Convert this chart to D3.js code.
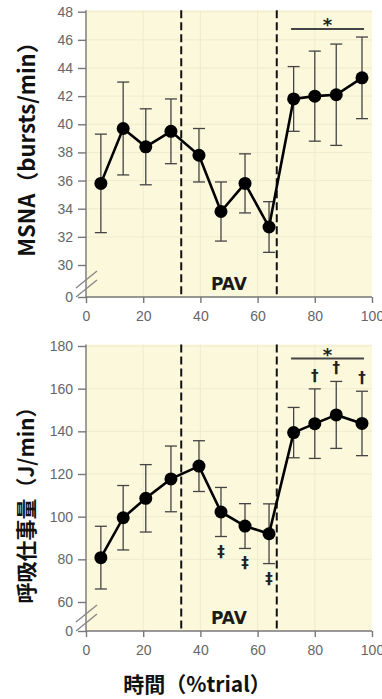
<!DOCTYPE html>
<html><head><meta charset="utf-8">
<script src="https://cdn.jsdelivr.net/npm/d3@7"></script>
<style>body{margin:0;background:#fff}svg{display:block}</style>
</head><body>
<svg id="c" width="382" height="699"></svg>
<script>
// ---- data ----
const xPos = [5.2, 13, 20.9, 29.7, 39.5, 47.2, 55.6, 64, 72.6, 80, 87.5, 96.5];
const msna = [35.8, 39.7, 38.4, 39.5, 37.8, 33.8, 35.8, 32.7, 41.8, 42.0, 42.1, 43.3];
const msnaErr = [3.5, 3.3, 2.7, 2.3, 1.9, 2.1, 2.1, 1.8, 2.3, 3.2, 3.6, 2.9];
const wob = [80.8, 99.5, 108.6, 117.7, 123.7, 102.2, 95.6, 92.0, 139.4, 143.6, 147.7, 143.7];
const wobErr = [14.7, 15.1, 15.8, 15.4, 11.9, 11.5, 10.5, 14.0, 11.8, 16.3, 15.7, 15.1];
const xTicks = [0, 20, 40, 60, 80, 100];
const msnaTicks = [0, 30, 32, 34, 36, 38, 40, 42, 44, 46, 48];
const wobTicks = [0, 60, 80, 100, 120, 140, 160, 180];
const pavBounds = [33.3, 66.7];
const sigRange = [71.7, 97.2];
const wobDagger = [9, 10, 11];      // indices with †
const wobDDagger = [5, 6, 7];       // indices with ‡
const titles = {msna: "MSNA（bursts/min）", wob: "呼吸仕事量（J/min）", x: "時間（%trial）"};

const svg = d3.select("#c");
const x = d3.scaleLinear().domain([0, 100]).range([86, 372]);
const tickFont = "'Liberation Sans', Arial, sans-serif";
const titleFont = "'Noto Sans CJK JP', sans-serif";

function panel(cfg) {
  const y = d3.scaleLinear().domain(cfg.domain).range(cfg.range);
  const g = svg.append("g");
  const top = cfg.range[2] - 1.5, bottom = cfg.range[0];
  g.append("rect").attr("x", x(0)).attr("y", top).attr("width", x(100) - x(0)).attr("height", bottom - top)
    .attr("fill", "#fbf8dc");
  // grid
  g.selectAll(".gh").data(cfg.ticks.filter(d => d > cfg.domain[1]))
    .join("line").attr("x1", x(0)).attr("x2", x(100)).attr("y1", d => y(d)).attr("y2", d => y(d))
    .attr("stroke", "#efebcc").attr("stroke-width", 1);
  g.selectAll(".gv").data(xTicks.slice(1, -1)).join("line")
    .attr("x1", d => x(d)).attr("x2", d => x(d)).attr("y1", top).attr("y2", bottom)
    .attr("stroke", "#efebcc").attr("stroke-width", 1);
  // axes
  const ya = d3.axisLeft(y).tickValues(cfg.ticks).tickSize(8).tickPadding(5).tickFormat(d3.format("d"));
  const yg = g.append("g").attr("transform", `translate(${x(0)},0)`).call(ya);
  yg.select(".domain").attr("d", `M0,${top}V${bottom}`);
  const xa = d3.axisBottom(x).tickValues(xTicks).tickSize(6).tickPadding(8);
  const xg = g.append("g").attr("transform", `translate(0,${bottom})`).call(xa);
  xg.select(".domain").attr("d", `M${x(0)},0H${x(100)}`);
  [yg, xg].forEach(a => {
    a.selectAll("path,line").attr("stroke", "#777").attr("stroke-width", 1.4);
    a.selectAll("text").attr("fill", "#666").style("font-family", tickFont).style("font-size", "14px");
  });
  // axis break marks
  const bx = x(0), by = bottom;
  [[-1, -19], [-10, -28]].forEach(([a, b]) => {
    g.append("line").attr("x1", bx - 10).attr("y1", by + a + 1).attr("x2", bx + 11).attr("y2", by + b + 2)
      .attr("stroke", "#888").attr("stroke-width", 1.4);
  });
  // PAV dashed lines
  g.selectAll(".pav").data(pavBounds).join("line")
    .attr("x1", d => x(d)).attr("x2", d => x(d)).attr("y1", top).attr("y2", bottom)
    .attr("stroke", "#111").attr("stroke-width", 2).attr("stroke-dasharray", "8,4");
  g.append("text").attr("x", x((pavBounds[0] + pavBounds[1]) / 2)).attr("y", bottom - 7)
    .attr("text-anchor", "middle").style("font-family", "'DejaVu Sans', sans-serif").style("font-weight", "bold")
    .style("font-size", "17px").attr("fill", "#1a1a1a").text("PAV");
  // error bars
  const vals = cfg.vals, err = cfg.err;
  const eb = g.append("g").attr("stroke", "#444").attr("stroke-width", 1.3);
  vals.forEach((v, i) => {
    const cx = x(xPos[i]);
    eb.append("line").attr("x1", cx).attr("x2", cx).attr("y1", y(v + err[i])).attr("y2", y(v - err[i]));
    [v + err[i], v - err[i]].forEach(e => eb.append("line").attr("x1", cx - 6).attr("x2", cx + 6).attr("y1", y(e)).attr("y2", y(e)));
  });
  // line + points
  g.append("path").datum(vals).attr("fill", "none").attr("stroke", "#000").attr("stroke-width", 2.6)
    .attr("d", d3.line().x((d, i) => x(xPos[i])).y(d => y(d)));
  g.selectAll(".pt").data(vals).join("circle").attr("cx", (d, i) => x(xPos[i])).attr("cy", d => y(d))
    .attr("r", 6.5).attr("fill", "#000");
  // significance bar
  g.append("line").attr("x1", x(sigRange[0])).attr("x2", x(sigRange[1])).attr("y1", cfg.sigY).attr("y2", cfg.sigY)
    .attr("stroke", "#444").attr("stroke-width", 2);
  g.append("text").attr("x", x((sigRange[0] + sigRange[1]) / 2)).attr("y", cfg.sigY + 2)
    .attr("text-anchor", "middle").style("font-family", "'DejaVu Sans', sans-serif").style("font-weight", "bold")
    .style("font-size", "18px").attr("fill", "#222").text("*");
  // y title
  g.append("text").attr("transform", `translate(${cfg.titleX},${cfg.titleY}) rotate(-90)`)
    .attr("text-anchor", "middle").style("font-family", titleFont).style("font-weight", "bold")
    .style("font-size", cfg.titleSize + "px").attr("fill", "#111").text(cfg.title);
  return {g, y};
}

panel({domain: [0, 30, 48], range: [297, 265, 11.7], ticks: msnaTicks, vals: msna, err: msnaErr,
  sigY: 29, title: titles.msna, titleX: 35, titleY: 144, titleSize: 22});
const p2 = panel({domain: [0, 60, 180], range: [631, 602, 346], ticks: wobTicks, vals: wob, err: wobErr,
  sigY: 358.5, title: titles.wob, titleX: 34, titleY: 500, titleSize: 21});

// daggers
const dg = p2.g.append("g").style("font-family", "'DejaVu Sans', sans-serif").style("font-size", "15px")
  .style("font-weight", "bold").attr("fill", "#222").attr("text-anchor", "middle");
wobDagger.forEach(i => dg.append("text").attr("x", x(xPos[i])).attr("y", p2.y(wob[i] + wobErr[i]) - 8).text("†"));
wobDDagger.forEach(i => dg.append("text").attr("x", x(xPos[i])).attr("y", p2.y(wob[i] - wobErr[i]) + 20).text("‡"));

// x title
svg.append("text").attr("x", 197).attr("y", 692).attr("text-anchor", "middle")
  .style("font-family", titleFont).style("font-weight", "bold").style("font-size", "21px").attr("fill", "#111")
  .text(titles.x);
</script>
</body></html>
